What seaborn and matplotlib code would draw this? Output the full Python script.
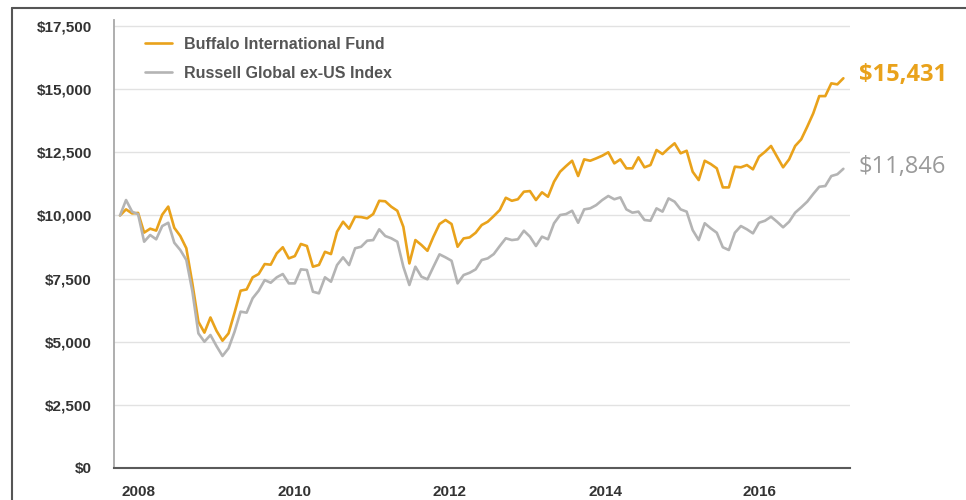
import numpy as np
import pandas as pd
import matplotlib
matplotlib.use("Agg")
import matplotlib.pyplot as plt
from matplotlib.lines import Line2D
import seaborn as sns

# Growth of $10,000, month-end values (Sep 2007 - Sep 2017)
fund_name = "Buffalo International Fund"
index_name = "Russell Global ex-US Index"

fund = [10000, 10240, 10080, 10100, 9320, 9475, 9400, 10030, 10350, 9510,
        9185, 8700, 7310, 5790, 5360, 5960, 5435, 5040, 5330, 6150,
        7020, 7070, 7550, 7680, 8075, 8050, 8500, 8740, 8300, 8390,
        8870, 8790, 7970, 8040, 8560, 8470, 9355, 9750, 9475, 9950,
        9935, 9885, 10055, 10580, 10560, 10345, 10185, 9550, 8100, 9025,
        8830, 8600, 9160, 9660, 9820, 9660, 8760, 9090, 9130, 9315,
        9620, 9750, 9975, 10215, 10700, 10580, 10640, 10940, 10965, 10610,
        10915, 10740, 11335, 11730, 11955, 12165, 11560, 12220, 12165, 12260,
        12365, 12500, 12060, 12220, 11865, 11865, 12300, 11905, 11995, 12590,
        12430, 12655, 12855, 12460, 12560, 11730, 11400, 12165, 12035, 11865,
        11110, 11110, 11930, 11905, 11995, 11825, 12325, 12520, 12750, 12325,
        11905, 12220, 12750, 13010, 13510, 14040, 14725, 14725, 15230, 15190,
        15431]

bench = [10000, 10610, 10150, 10045, 8960, 9225, 9055, 9580, 9710, 8920,
         8630, 8235, 7000, 5330, 5000, 5265, 4830, 4435, 4740, 5395,
         6190, 6150, 6720, 7020, 7440, 7335, 7550, 7680, 7310, 7310,
         7865, 7840, 6980, 6915, 7550, 7375, 8035, 8340, 8035, 8700,
         8760, 9000, 9025, 9450, 9185, 9095, 8960, 7970, 7245, 7970,
         7575, 7470, 7970, 8460, 8340, 8205, 7310, 7640, 7730, 7865,
         8235, 8300, 8470, 8790, 9095, 9025, 9055, 9395, 9160, 8790,
         9160, 9055, 9690, 10015, 10055, 10185, 9710, 10240, 10280, 10410,
         10610, 10770, 10640, 10715, 10240, 10110, 10150, 9820, 9790, 10280,
         10150, 10675, 10545, 10240, 10150, 9420, 9025, 9690, 9490, 9315,
         8740, 8630, 9315, 9580, 9450, 9290, 9710, 9790, 9950, 9750,
         9530, 9750, 10110, 10320, 10545, 10850, 11135, 11165, 11560, 11630,
         11846]

year_labels = ["2008", "2010", "2012", "2014", "2016"]
year_ticks = [3, 29, 54.6, 80.5, 106]
y_ticks = [0, 2500, 5000, 7500, 10000, 12500, 15000, 17500]

gold = "#E9A21B"
grey = "#B4B4B4"

months = np.arange(len(fund))
df = pd.DataFrame({
    "month": np.concatenate([months, months]),
    "value": fund + bench,
    "series": [fund_name] * len(fund) + [index_name] * len(bench),
})

sns.set_theme(style="white")
plt.rcParams["font.family"] = ["Liberation Sans", "DejaVu Sans"]

fig = plt.figure(figsize=(9.66, 5), dpi=100)
ax = fig.add_axes([114 / 966, 32 / 500, 736 / 966, 448 / 500])

sns.lineplot(data=df, x="month", y="value", hue="series",
             hue_order=[fund_name, index_name], palette=[gold, grey],
             linewidth=1.9, ax=ax)

ax.set_xlim(-1, 121.1)
ax.set_ylim(0, 17738)

# light horizontal gridlines
for v in y_ticks[1:]:
    ax.axhline(v, color="#e2e2e2", linewidth=1.0, zorder=0)

ax.set_yticks(y_ticks)
ax.set_yticklabels([f"${v:,.0f}" for v in y_ticks])
ax.set_xticks(year_ticks)
ax.set_xticklabels(year_labels)
ax.tick_params(axis="y", length=0, pad=16, labelsize=11, labelcolor="#333333")
ax.tick_params(axis="x", length=0, pad=12, labelsize=11, labelcolor="#333333")
for lab in ax.get_xticklabels() + ax.get_yticklabels():
    lab.set_fontweight("bold")
ax.set_xlabel("")
ax.set_ylabel("")

for s in ["top", "right"]:
    ax.spines[s].set_visible(False)
ax.spines["left"].set_color("#a8a8a8")
ax.spines["left"].set_linewidth(1.3)
ax.spines["bottom"].set_color("#5a5a5a")
ax.spines["bottom"].set_linewidth(1.5)

# legend
handles = [Line2D([], [], color=gold, linewidth=1.9),
           Line2D([], [], color=grey, linewidth=1.9)]
leg = fig.legend(handles, [fund_name, index_name], loc="upper left",
                 bbox_to_anchor=(145 / 966, (500 - 37) / 500),
                 frameon=False, borderpad=0, borderaxespad=0,
                 handlelength=1.7, handletextpad=0.75, labelspacing=0.85,
                 prop={"family": "Liberation Sans", "weight": "bold", "size": 11.5})
for t in leg.get_texts():
    t.set_color("#555555")
ax.get_legend().remove()

# end-value labels
ax.annotate(f"${fund[-1]:,}", xy=(months[-1], fund[-1]), xytext=(11, 2),
            textcoords="offset points", va="center", ha="left",
            color=gold, fontsize=17, fontweight="bold", family="Open Sans")
ax.annotate(f"${bench[-1]:,}", xy=(months[-1], bench[-1]), xytext=(11, 1),
            textcoords="offset points", va="center", ha="left",
            color="#9a9a9a", fontsize=17, family="Open Sans")

# outer frame lines (left and top)
fig.add_artist(Line2D([12 / 966, 12 / 966], [0, 492 / 500], color="#555555",
                      linewidth=1.5, transform=fig.transFigure))
fig.add_artist(Line2D([12 / 966, 1], [492 / 500, 492 / 500], color="#555555",
                      linewidth=1.5, transform=fig.transFigure))

fig.savefig("out.png", dpi=100)
